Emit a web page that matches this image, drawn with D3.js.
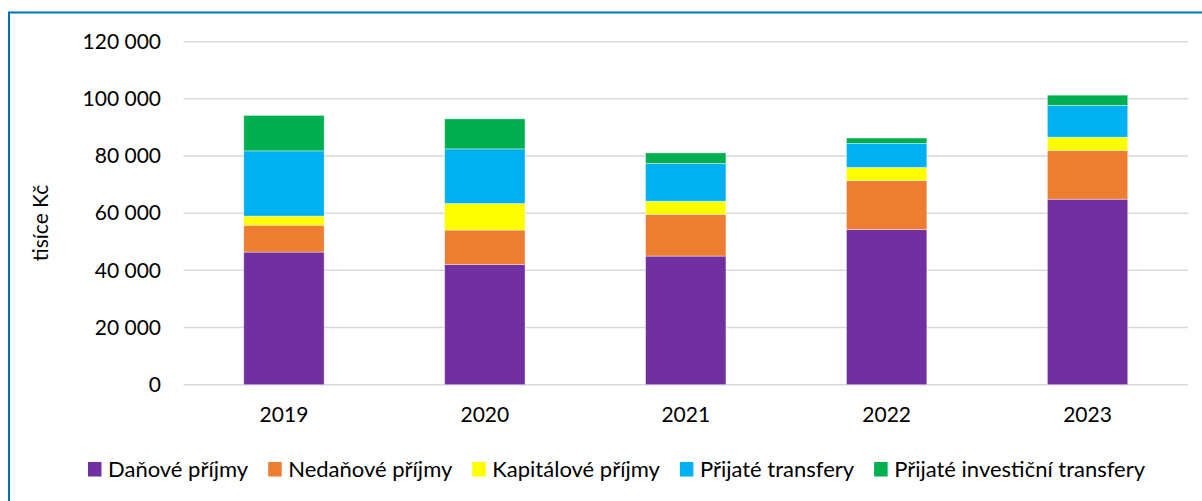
<!DOCTYPE html>
<html>
<head>
<meta charset="utf-8">
<script src="https://cdn.jsdelivr.net/npm/d3@7"></script>
<style>
  body { margin: 0; background: #fff; }
  text { font-family: Lato, "Open Sans", sans-serif; fill: #000; }
</style>
</head>
<body>
<div id="container"></div>
<script>
const width = 1202;
const height = 501;

// data (tisíce Kč)
const years = ["2019", "2020", "2021", "2022", "2023"];
const seriesNames = ["Daňové příjmy", "Nedaňové příjmy", "Kapitálové příjmy", "Přijaté transfery", "Přijaté investiční transfery"];
const danove = [46400, 42100, 45000, 54300, 64900];
const nedanove = [9400, 12000, 14600, 17100, 17000];
const kapitalove = [3200, 9300, 4600, 4600, 4700];
const transfery = [22800, 19100, 13200, 8400, 11100];
const investicni = [12400, 10500, 3700, 1900, 3600];
const yTicks = [0, 20000, 40000, 60000, 80000, 100000, 120000];
const colors = ["#7030A0", "#ED7D31", "#FFFF00", "#00B0F0", "#00B050"];

const seriesValues = [danove, nedanove, kapitalove, transfery, investicni];
const rows = years.map((y, i) => {
  const r = { year: y };
  seriesNames.forEach((s, j) => (r[s] = seriesValues[j][i]));
  return r;
});

const svg = d3
  .select("#container")
  .append("svg")
  .attr("width", width)
  .attr("height", height);

// blue frame (only top and left edges are in view)
svg.append("path")
  .attr("d", "M9,501 V12.5 H1202")
  .attr("fill", "none")
  .attr("stroke", "#0070C0")
  .attr("stroke-width", 2);

const x = d3.scaleBand(years, [183.5, 1188]).paddingInner(0.6).paddingOuter(0.3);
const y = d3.scaleLinear([0, 120000], [384.7, 41.7]);

const fmt = (d) => d3.format(",")(d).replace(/,/g, " ");

// gridlines
svg.append("g")
  .selectAll("line")
  .data(yTicks)
  .join("line")
  .attr("x1", 183.5)
  .attr("x2", 1188)
  .attr("y1", (d) => y(d))
  .attr("y2", (d) => y(d))
  .attr("stroke", "#D9D9D9")
  .attr("stroke-width", 1.5);

// y axis labels
const yAx = svg.append("g")
  .attr("transform", "translate(161,0)")
  .call(d3.axisLeft(y).tickValues(yTicks).tickFormat(fmt).tickSize(0).tickPadding(0));
yAx.select(".domain").remove();
yAx.selectAll("text").style("font-size", "21px").style("font-family", "Lato");

// x axis labels
const xAx = svg.append("g")
  .attr("transform", "translate(0,407)")
  .call(d3.axisBottom(x).tickSize(0).tickPadding(0));
xAx.select(".domain").remove();
xAx.selectAll("text").style("font-size", "21px").style("font-family", "Lato").attr("dy", "0.71em");

// stacked bars
const stack = d3.stack().keys(seriesNames)(rows);
svg.append("g")
  .selectAll("g")
  .data(stack)
  .join("g")
  .attr("fill", (d, i) => colors[i])
  .selectAll("rect")
  .data((d) => d)
  .join("rect")
  .attr("x", (d) => x(d.data.year))
  .attr("width", x.bandwidth())
  .attr("y", (d) => y(d[1]))
  .attr("height", (d) => y(d[0]) - y(d[1]))
  .attr("stroke", "#ffffff")
  .attr("stroke-opacity", 0.5)
  .attr("stroke-width", 0.75);

// y axis title
svg.append("text")
  .attr("transform", "translate(48,223) rotate(-90)")
  .attr("text-anchor", "middle")
  .style("font-size", "21px")
  .text("tisíce Kč");

// legend
const legend = svg.append("g").attr("transform", "translate(88,469)");
let lx = 0;
seriesNames.forEach((s, i) => {
  const g = legend.append("g").attr("transform", `translate(${lx},0)`);
  g.append("rect")
    .attr("x", 0)
    .attr("y", -7)
    .attr("width", 13.5)
    .attr("height", 14.5)
    .attr("fill", colors[i]);
  const t = g.append("text")
    .attr("x", 20)
    .attr("dy", "0.35em")
    .style("font-size", "22px")
    .text(s);
  lx += 20 + t.node().getComputedTextLength() + 20;
});
</script>
</body>
</html>
